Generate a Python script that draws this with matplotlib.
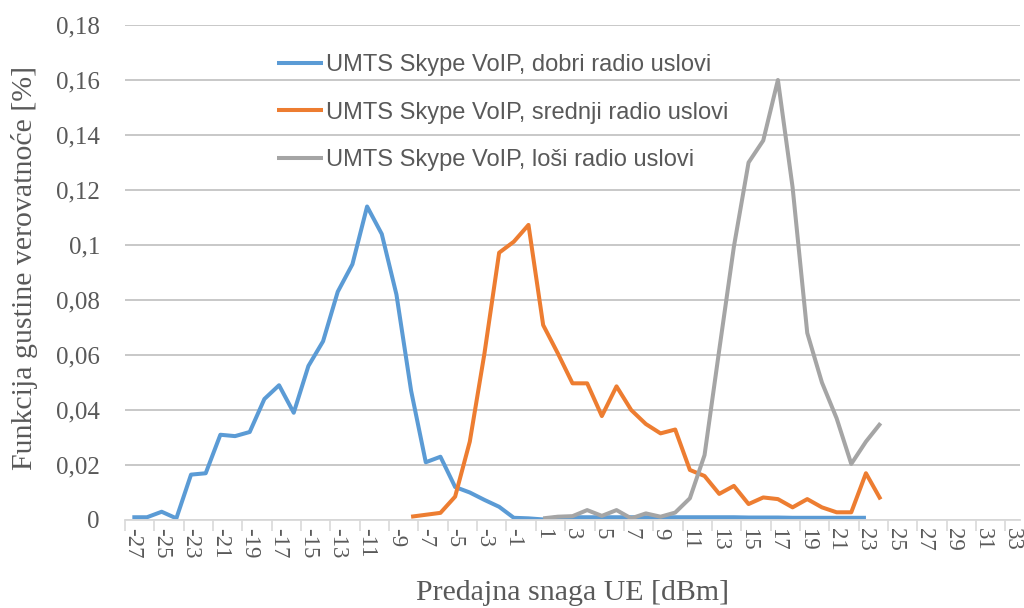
import matplotlib
matplotlib.use("Agg")
import matplotlib.pyplot as plt
import numpy as np

# category axis: transmit power in dBm
power_dbm = list(range(-27, 34))

# UMTS Skype VoIP, good radio conditions
good_x = list(range(-27, 24))
good_pdf = [0.001, 0.001, 0.003, 0.0006, 0.0165, 0.017, 0.031, 0.0305, 0.032, 0.044,
            0.049, 0.039, 0.056, 0.065, 0.083, 0.093, 0.114, 0.104, 0.082, 0.047,
            0.021, 0.023, 0.012, 0.010, 0.0073, 0.0048, 0.0008, 0.0006, 0.0002, 0.0010,
            0.0010, 0.0010, 0.0010, 0.0010, 0.0010, 0.0010, 0.0010, 0.0010, 0.0010, 0.0010,
            0.0010, 0.0010, 0.0009, 0.0009, 0.0009, 0.0008, 0.0008, 0.0008, 0.0008, 0.0008,
            0.0008]

# medium radio conditions
medium_x = list(range(-8, 25))
medium_pdf = [0.0012, 0.0019, 0.0026, 0.0085, 0.0285, 0.0606, 0.0972, 0.1012, 0.1073, 0.0709,
              0.0606, 0.0497, 0.0497, 0.0378, 0.0486, 0.040, 0.0349, 0.0315, 0.0329, 0.0182,
              0.016, 0.0095, 0.0124, 0.0058, 0.0082, 0.0076, 0.0046, 0.0076, 0.0046, 0.0028,
              0.0028, 0.017, 0.0075]

# bad radio conditions
bad_x = list(range(1, 25))
bad_pdf = [0.0006, 0.0012, 0.0014, 0.0036, 0.0015, 0.0036, 0.0006, 0.0024, 0.0012, 0.0027,
           0.0079, 0.0236, 0.0618, 0.0994, 0.130, 0.138, 0.160, 0.121, 0.068, 0.050,
           0.037, 0.0204, 0.0285, 0.0352]

series_labels = ["UMTS Skype VoIP, dobri radio uslovi",
                 "UMTS Skype VoIP, srednji radio uslovi",
                 "UMTS Skype VoIP, loši radio uslovi"]
colors = ["#5B9BD5", "#ED7D31", "#A5A5A5"]

y_ticks = [0, 0.02, 0.04, 0.06, 0.08, 0.1, 0.12, 0.14, 0.16, 0.18]
y_tick_labels = ["0", "0,02", "0,04", "0,06", "0,08", "0,1", "0,12", "0,14", "0,16", "0,18"]

SERIF = ["Liberation Serif", "DejaVu Serif"]
SANS = ["Liberation Sans", "DejaVu Sans"]
TXT = "#595959"

fig = plt.figure(figsize=(10.24, 6.08), dpi=100)
ax = fig.add_axes([125 / 1024, 88 / 608, 895 / 1024, 495 / 608])

for xs, ys, c, lab in zip([good_x, medium_x, bad_x], [good_pdf, medium_pdf, bad_pdf], colors, series_labels):
    ax.plot(xs, ys, color=c, lw=2.9, label=lab, solid_joinstyle="round", solid_capstyle="butt")

ax.set_xlim(power_dbm[0] - 0.5, power_dbm[-1] + 0.5)
ax.set_ylim(0, 0.18)

ax.set_yticks(y_ticks)
ax.set_yticklabels(y_tick_labels, fontfamily=SERIF, fontsize=18, color=TXT)
ax.yaxis.grid(True, color="#c4c4c4", lw=1.3)
ax.set_axisbelow(True)
ax.tick_params(axis="y", length=0, pad=18)

label_cats = power_dbm[::2]
ax.set_xticks(label_cats)
ax.set_xticklabels([str(v) for v in label_cats], rotation=-90, fontfamily=SERIF,
                   fontsize=16.5, color=TXT)
ax.tick_params(axis="x", which="major", length=0, pad=6)
ax.set_xticks([v - 0.5 for v in label_cats], minor=True)
ax.tick_params(axis="x", which="minor", length=8, width=1.2, color="#d9d9d9")

for s in ["top", "right", "left"]:
    ax.spines[s].set_visible(False)
ax.spines["bottom"].set_color("#d9d9d9")
ax.spines["bottom"].set_linewidth(1.3)

ax.set_xlabel("Predajna snaga UE [dBm]", fontfamily=SERIF, fontsize=21.5, color=TXT)
ax.xaxis.set_label_coords(0.5, -0.122)
ax.set_ylabel("Funkcija gustine verovatnoće [%]", fontfamily=SERIF, fontsize=21.5, color=TXT)
ax.yaxis.set_label_coords(-0.097, 0.51)

leg = ax.legend(loc="upper left", bbox_to_anchor=(277 / 1024, 1 - 54 / 608),
                bbox_transform=fig.transFigure, frameon=False, borderpad=0, borderaxespad=0,
                handlelength=1.95, handletextpad=0.12, labelspacing=1.08,
                prop={"family": SANS, "size": 17})
for t in leg.get_texts():
    t.set_color(TXT)

fig.savefig("out.png", dpi=100)
